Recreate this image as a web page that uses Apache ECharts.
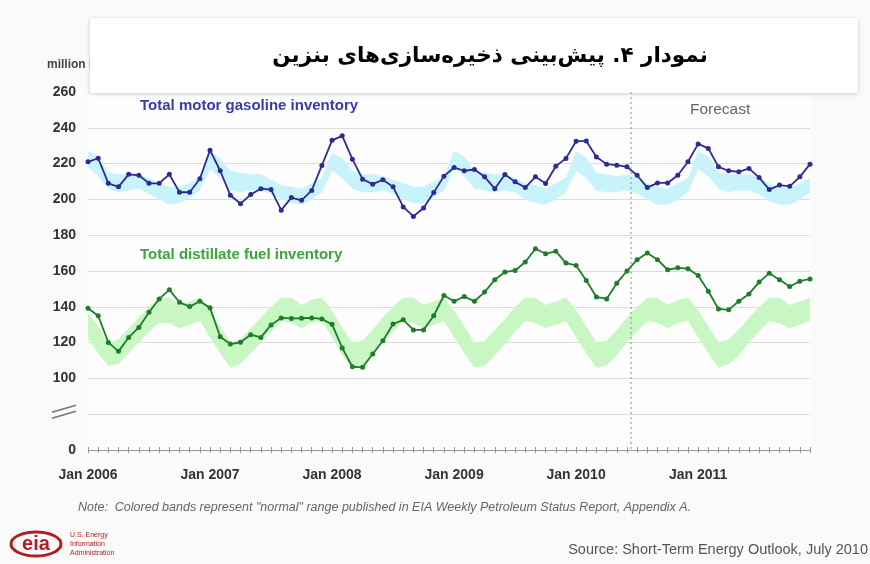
<!DOCTYPE html>
<html>
<head>
<meta charset="utf-8">
<script src="https://cdn.jsdelivr.net/npm/echarts@6/dist/echarts.min.js"></script>
<style>
html, body { margin: 0; padding: 0; background: #fafafa; }
#chart { width: 870px; height: 564px; }
</style>
</head>
<body>
<div id="chart"></div>
<script>
// month index 0 = Jan 2006 ... 71 = Dec 2011
const yearLabels = ["Jan 2006", "Jan 2007", "Jan 2008", "Jan 2009", "Jan 2010", "Jan 2011"];
// y axis: 60 stands for 0, 80 is the axis break
const yLabels = {60: "0", 80: ""};

const gasoline = [
    221, 223, 209, 207, 214, 213.5, 209, 209, 214, 204, 204, 211.5,
    227.5, 216, 202.3, 197.6, 202.7, 206, 205.5, 194, 201, 199.5, 205, 219,
    233, 235.5, 222.5, 211.3, 208.5, 211, 207, 195.8, 190.5, 195.2, 203.8, 213,
    217.8, 216, 216.7, 212.6, 206, 213.9, 209.8, 206.6, 212.6, 208.9, 218.5, 222.9,
    232.5, 232.6, 223.7, 219.7, 219.1, 218.2, 213.5, 206.6, 209.2, 209.2, 213.5, 221,
    231, 228.5, 218.2, 216, 215.4, 217.3, 212.2, 205.5, 208, 207.3, 212.6, 219.7
];
const distillate = [
    139.2, 135, 120.1, 115.1, 122.9, 128.5, 137, 144.4, 149.5, 142.5, 140.1, 143.1,
    139.4, 123.3, 119.2, 120.2, 124.4, 122.9, 129.9, 133.8, 133.5, 133.6, 133.8, 133.2,
    130.2, 117, 106.5, 106.2, 113.6, 121, 130.4, 132.7, 127.1, 127.1, 135, 146.3,
    143.1, 145.7, 143.1, 148.2, 155.1, 159.4, 160.3, 165, 172.4, 169.6, 171.1, 164.4,
    163.1, 154.7, 145.5, 144.4, 153.2, 160, 166.3, 170, 166.3, 160.7, 161.8, 161.3,
    157.5, 148.7, 138.8, 138.3, 143.1, 147.2, 153.8, 158.8, 155.1, 151.3, 154.3, 155.6
];
// "normal" ranges (colored bands)
const gasLow = [
    218, 213, 206, 204, 205, 206, 203, 200, 197, 198, 201, 205,
    217, 212, 205, 204, 205, 205, 203, 200, 198, 197, 200, 204,
    216, 212, 206, 204, 204, 205, 203, 200, 198, 198, 201, 205,
    217, 213, 206, 205, 204, 205, 204, 200, 198, 197, 200, 204,
    216, 212, 205, 204, 204, 205, 203, 200, 197, 197, 200, 204,
    217, 213, 206, 204, 205, 205, 203, 199, 197, 197, 200, 204
];
const gasHigh = [
    227, 224, 215, 214, 214, 214, 212, 209, 207, 207, 209, 213,
    227, 223, 216, 215, 214, 214, 211, 208, 207, 206, 209, 212,
    226, 223, 216, 214, 214, 213, 211, 209, 207, 207, 210, 213,
    227, 224, 216, 215, 214, 214, 212, 209, 208, 206, 209, 212,
    227, 223, 215, 214, 213, 214, 212, 209, 207, 206, 209, 212,
    227, 224, 215, 214, 214, 214, 212, 209, 207, 206, 209, 212
];
const distLow = [
    122, 114, 107, 108, 114, 120, 126, 131, 131, 128, 130, 132,
    123, 114, 106, 108, 114, 120, 126, 132, 131, 128, 131, 132,
    123, 113, 106, 107, 113, 120, 126, 132, 131, 128, 130, 132,
    123, 114, 106, 107, 113, 119, 126, 132, 131, 128, 130, 132,
    123, 114, 106, 107, 113, 120, 126, 132, 131, 128, 131, 132,
    123, 114, 106, 108, 113, 120, 126, 132, 131, 128, 130, 132
];
const distHigh = [
    137, 129, 120, 122, 128, 134, 140, 145, 145, 141, 143, 145,
    138, 129, 120, 122, 128, 134, 140, 145, 145, 141, 144, 145,
    138, 128, 120, 121, 127, 134, 140, 145, 145, 141, 143, 145,
    138, 129, 120, 121, 127, 133, 140, 145, 145, 141, 143, 145,
    138, 129, 120, 121, 127, 134, 140, 145, 145, 141, 144, 145,
    138, 129, 120, 122, 127, 134, 140, 145, 145, 141, 143, 145
];
const forecastStart = 53.4; // month index, between Jun and Jul 2010

const months = gasoline.map((v, i) => i);
const chart = echarts.init(document.getElementById("chart"));

function spread(hi, lo) {
    return hi.map((v, i) => v - lo[i]);
}

const labelFont = "Liberation Sans";

chart.setOption({
    backgroundColor: "#fafafa",
    animation: false,
    grid: {left: 88, right: 60, top: 92, bottom: 114, show: true, backgroundColor: "#fdfdfd", borderWidth: 0},
    xAxis: [{
        type: "category",
        data: months,
        boundaryGap: false,
        axisLine: {lineStyle: {color: "#9a9a9a", width: 1}},
        axisTick: {show: true, interval: 0, length: 3, lineStyle: {color: "#9a9a9a"}},
        splitLine: {show: false},
        axisLabel: {
            margin: 18,
            color: "#333",
            fontFamily: labelFont,
            fontWeight: "bold",
            fontSize: 14,
            interval: (i) => i % 12 === 0,
            formatter: (v, i) => yearLabels[i / 12] || ""
        }
    }, {
        // upper half of the month ticks, so they cross the axis line
        type: "category",
        data: months,
        boundaryGap: false,
        position: "bottom",
        axisLine: {show: false},
        axisTick: {show: true, inside: true, interval: 0, length: 3, lineStyle: {color: "#9a9a9a"}},
        axisLabel: {show: false},
        splitLine: {show: false}
    }],
    yAxis: {
        type: "value",
        min: 60,
        max: 260,
        interval: 20,
        axisLine: {show: false},
        axisTick: {show: false},
        splitLine: {lineStyle: {color: "#dcdcdc", width: 1}},
        axisLabel: {
            margin: 12,
            color: "#333",
            fontFamily: labelFont,
            fontWeight: "bold",
            fontSize: 14,
            formatter: (v) => (v in yLabels ? yLabels[v] : String(v))
        }
    },
    series: [
        {type: "line", stack: "gasBand", data: gasLow, symbol: "none", lineStyle: {width: 0}, silent: true},
        {type: "line", stack: "gasBand", data: spread(gasHigh, gasLow), symbol: "none", lineStyle: {width: 0},
            areaStyle: {color: "#c8f3fa", opacity: 1}, silent: true},
        {type: "line", stack: "distBand", data: distLow, symbol: "none", lineStyle: {width: 0}, silent: true},
        {type: "line", stack: "distBand", data: spread(distHigh, distLow), symbol: "none", lineStyle: {width: 0},
            areaStyle: {color: "#c8f7c4", opacity: 1}, silent: true},
        {
            name: "Total motor gasoline inventory",
            type: "line",
            data: gasoline,
            symbol: "circle",
            symbolSize: 5,
            itemStyle: {color: "#2c2c92"},
            lineStyle: {color: "#2c2c92", width: 1.8}
        },
        {
            name: "Total distillate fuel inventory",
            type: "line",
            data: distillate,
            symbol: "circle",
            symbolSize: 5,
            itemStyle: {color: "#1e7d28"},
            lineStyle: {color: "#1e7d28", width: 1.8}
        }
    ]
});

// forecast divider, texts, title box, axis break and logo
const x0 = chart.convertToPixel({xAxisIndex: 0}, 0);
const x1 = chart.convertToPixel({xAxisIndex: 0}, 1);
const fx = x0 + (x1 - x0) * forecastStart;
const yTop = chart.convertToPixel({yAxisIndex: 0}, 260);
const yBot = chart.convertToPixel({yAxisIndex: 0}, 60);
const brkY = chart.convertToPixel({yAxisIndex: 0}, 80);
chart.setOption({
    graphic: [
        {type: "line", shape: {x1: fx, y1: yTop, x2: fx, y2: yBot}, z: 5,
            style: {stroke: "#888", lineWidth: 1, lineDash: [2, 3]}},
        {type: "text", left: 47, top: 59, style: {text: "million barrels", fill: "#444", font: "bold 12px Liberation Sans"}},
        {type: "rect", shape: {x: 90, y: 18, width: 768, height: 75},
            style: {fill: "#fff", shadowBlur: 4, shadowColor: "rgba(0,0,0,0.2)", shadowOffsetY: 1}},
        {type: "text", x: 490, y: 56, style: {text: "نمودار ۴. پیش‌بینی ذخیره‌سازی‌های بنزین",
            fill: "#000", font: "bold 21.5px DejaVu Sans", align: "center", verticalAlign: "middle"}},
        {type: "text", x: 140, y: 106, style: {text: "Total motor gasoline inventory", fill: "#3a3ab0",
            font: "bold 15px Liberation Sans", verticalAlign: "middle"}},
        {type: "text", x: 140, y: 255, style: {text: "Total distillate fuel inventory", fill: "#3aa63a",
            font: "bold 15px Liberation Sans", verticalAlign: "middle"}},
        {type: "text", x: 690, y: 110, style: {text: "Forecast", fill: "#666", font: "15.5px Liberation Sans",
            verticalAlign: "middle"}},
        {type: "line", shape: {x1: 52, y1: brkY - 2, x2: 76, y2: brkY - 9}, style: {stroke: "#777", lineWidth: 1.5}},
        {type: "line", shape: {x1: 52, y1: brkY + 4, x2: 76, y2: brkY - 3}, style: {stroke: "#777", lineWidth: 1.5}},
        {type: "text", x: 78, y: 508, style: {text: "Note:  Colored bands represent \"normal\" range published in EIA Weekly Petroleum Status Report, Appendix A.",
            fill: "#666", font: "italic 12.5px Liberation Sans", verticalAlign: "middle"}},
        {type: "text", x: 868, y: 550, style: {text: "Source: Short-Term Energy Outlook, July 2010", fill: "#555",
            font: "14.5px Liberation Sans", align: "right", verticalAlign: "middle"}},
        {type: "ellipse", shape: {cx: 36, cy: 544, rx: 25, ry: 12}, style: {fill: "none", stroke: "#b01e23", lineWidth: 3}},
        {type: "text", x: 36, y: 544, style: {text: "eia", fill: "#b01e23", font: "bold 20px Liberation Sans",
            align: "center", verticalAlign: "middle"}},
        {type: "text", x: 70, y: 535, style: {text: "U.S. Energy", fill: "#b01e23", font: "7px Liberation Sans", verticalAlign: "middle"}},
        {type: "text", x: 70, y: 544, style: {text: "Information", fill: "#b01e23", font: "7px Liberation Sans", verticalAlign: "middle"}},
        {type: "text", x: 70, y: 553, style: {text: "Administration", fill: "#b01e23", font: "7px Liberation Sans", verticalAlign: "middle"}}
    ]
});
</script>
</body>
</html>
